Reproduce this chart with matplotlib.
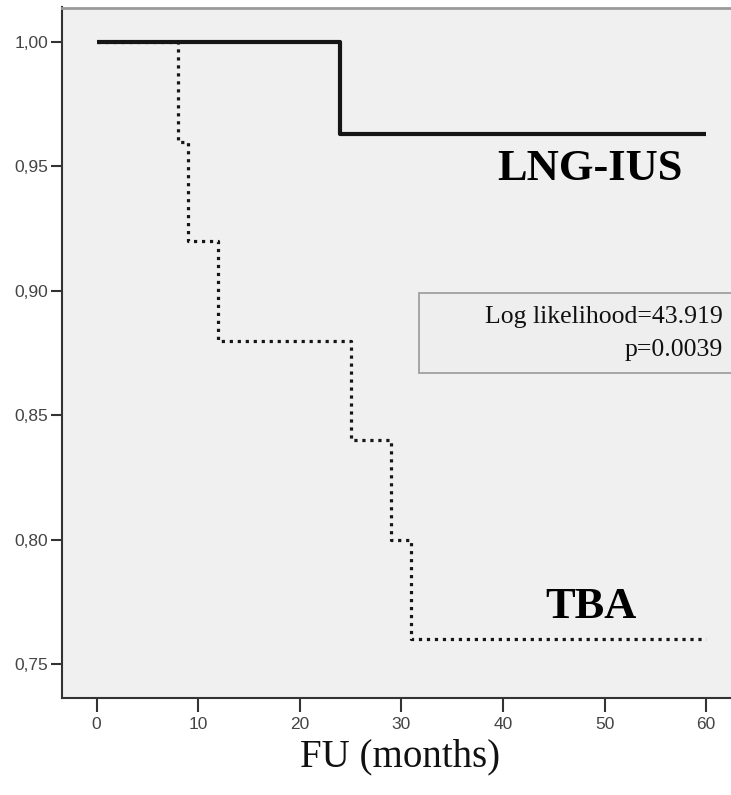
import numpy as np
import matplotlib
matplotlib.use("Agg")
import matplotlib.pyplot as plt
from matplotlib.patches import Rectangle
from matplotlib.ticker import FuncFormatter

# Kaplan-Meier step data (time in months, cumulative survival)
lng_time = [0, 24, 60]
lng_surv = [1.0, 0.963, 0.963]

tba_time = [0, 8, 9, 12, 25, 29, 31, 60]
tba_surv = [1.0, 0.96, 0.92, 0.88, 0.84, 0.80, 0.76, 0.76]

x_ticks = [0, 10, 20, 30, 40, 50, 60]
y_ticks = [0.75, 0.80, 0.85, 0.90, 0.95, 1.00]

stats_lines = ["Log likelihood=43.919", "p=0.0039"]

fig = plt.figure(figsize=(7.31, 7.95), dpi=100)
ax = fig.add_axes([62 / 731, 1 - 698 / 795, 669 / 731, 690.5 / 795])
ax.set_facecolor("#f0f0f0")

# survival curves drawn as post-steps
ax.step(tba_time, tba_surv, where="post", color="#151515", lw=2.3,
        linestyle=(0, (1, 1.5)), zorder=2)
ax.step(lng_time, lng_surv, where="post", color="#151515", lw=3.0,
        solid_capstyle="butt", zorder=3)

ax.set_xlim(-3.4, 62.45)
ax.set_ylim(0.7363, 1.0139)
ax.set_xticks(x_ticks)
ax.set_yticks(y_ticks)
ax.yaxis.set_major_formatter(FuncFormatter(lambda v, p: f"{v:.2f}".replace(".", ",")))

for side in ["left", "bottom"]:
    ax.spines[side].set_color("#333333")
    ax.spines[side].set_linewidth(1.5)
ax.spines["top"].set_color("#9a9a9a")
ax.spines["top"].set_linewidth(2)
ax.spines["right"].set_visible(False)

ax.tick_params(axis="y", length=8, width=1.5, color="#333333", pad=2,
               labelsize=12.5, labelcolor="#444444")
ax.tick_params(axis="x", length=10, width=1.5, color="#333333", pad=4,
               labelsize=12.5, labelcolor="#444444")
for lbl in ax.get_xticklabels() + ax.get_yticklabels():
    lbl.set_fontfamily("Liberation Sans")

# group labels
ax.text(0.789, 0.766, "LNG-IUS", transform=ax.transAxes, ha="center", va="center",
        fontsize=32, fontweight="bold", family="Liberation Serif", color="black")
ax.text(0.791, 0.132, "TBA", transform=ax.transAxes, ha="center", va="center",
        fontsize=32, fontweight="bold", family="Liberation Serif", color="black")

# statistics box
ax.add_patch(Rectangle((0.5336, 0.4707), 0.48, 0.1158, transform=ax.transAxes,
                       facecolor="#eeeeee", edgecolor="#a0a0a0", lw=1.3,
                       clip_on=False, zorder=4))
ax.text(0.988, 0.5518, stats_lines[0], transform=ax.transAxes, ha="right", va="center",
        fontsize=18.5, family="Liberation Serif", color="#111111", zorder=5)
ax.text(0.988, 0.504, stats_lines[1], transform=ax.transAxes, ha="right", va="center",
        fontsize=18.5, family="Liberation Serif", color="#111111", zorder=5)

fig.text(400 / 731, 1 - 757 / 795, "FU (months)", ha="center", va="center",
         fontsize=28, family="Liberation Serif", color="#111111")

fig.savefig("out.png", dpi=100, facecolor="white")
